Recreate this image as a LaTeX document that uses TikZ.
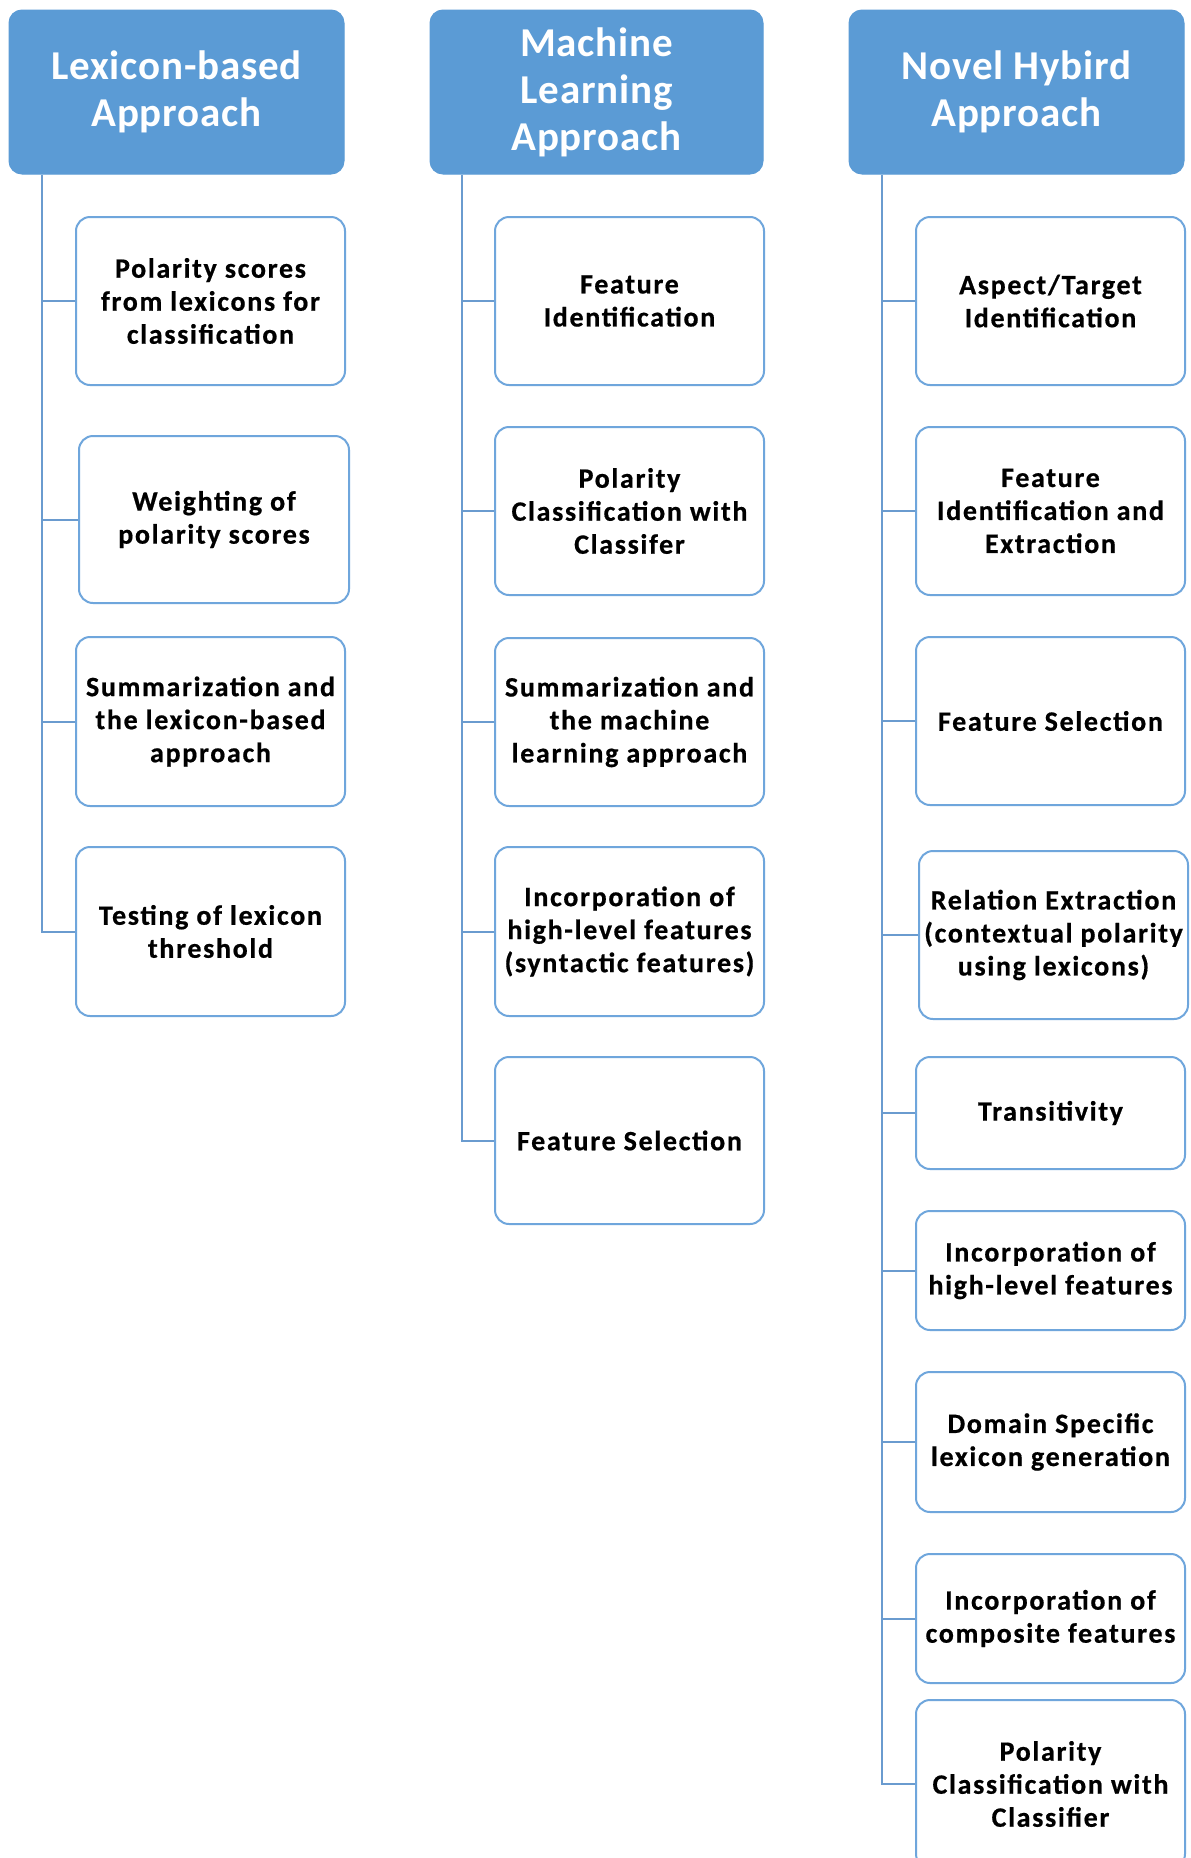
\documentclass[tikz,border=0pt]{standalone}
\usepackage{fontspec}
\setmainfont{Carlito}
\newfontfamily\boxfont[LetterSpace=6, BoldFeatures={LetterSpace=6, FakeBold=0.6}]{Carlito}
\newfontfamily\headfont[LetterSpace=2, BoldFeatures={LetterSpace=2}]{Carlito}
\definecolor{hdrblue}{HTML}{5B9BD5}
\definecolor{boxline}{HTML}{6FA6DC}
\definecolor{trunkline}{HTML}{6A9BCF}
\tikzset{
  header/.style={draw=hdrblue, fill=hdrblue, rounded corners=13pt, line width=1pt,
    text=white, align=center, inner sep=2pt,
    font=\headfont\fontsize{41}{47}\selectfont\bfseries},
  sub/.style={draw=boxline, fill=white, rounded corners=14pt, line width=2pt,
    text=black, align=center, inner sep=2pt, minimum width=269pt,
    font=\boxfont\fontsize{28}{33}\selectfont\bfseries},
  link/.style={draw=trunkline, line width=2pt}
}
\begin{document}
\begin{tikzpicture}[x=1pt, y=-1pt]
\useasboundingbox (0,0) rectangle (1191,1858);
\clip (0,0) rectangle (1191,1858);
\fill[white] (0,0) rectangle (1191,1858);

% column headers
\node[header, minimum width=335pt, minimum height=164pt] (h1) at (176.5,92) {Lexicon-based\\Approach};
\node[header, minimum width=333pt, minimum height=164pt] (h2) at (596.5,92) {Machine\\Learning\\Approach};
\node[header, minimum width=335pt, minimum height=164pt] (h3) at (1016.5,92) {Novel Hybird\\Approach};

% lexicon-based column
\node[sub, minimum height=168pt] (a1) at (210.5,301) {Polarity scores\\from lexicons for\\classification};
\node[sub, minimum width=270pt, minimum height=167pt] (a2) at (214,519.5) {Weighting of\\polarity scores};
\node[sub, minimum height=169pt] (a3) at (210.5,721.5) {Summarization and\\the lexicon-based\\approach};
\node[sub, minimum height=169pt] (a4) at (210.5,931.5) {Testing of lexicon\\threshold};

% machine learning column
\node[sub, minimum height=168pt] (b1) at (629.5,301) {Feature\\Identification};
\node[sub, minimum height=168pt] (b2) at (629.5,511) {Polarity\\Classification with\\Classifer};
\node[sub, minimum height=168pt] (b3) at (629.5,722) {Summarization and\\the machine\\learning approach};
\node[sub, minimum height=169pt] (b4) at (629.5,931.5) {Incorporation of\\high-level features\\(syntactic features)};
\node[sub, minimum height=167pt] (b5) at (629.5,1140.5) {Feature Selection};

% hybrid column
\node[sub, minimum height=168pt] (c1) at (1050.5,301) {Aspect/Target\\Identification};
\node[sub, minimum height=168pt] (c2) at (1050.5,511) {Feature\\Identification and\\Extraction};
\node[sub, minimum height=168pt] (c3) at (1050.5,721) {Feature Selection};
\node[sub, minimum height=168pt] (c4) at (1053.5,935) {Relation Extraction\\(contextual polarity\\using lexicons)};
\node[sub, minimum height=112pt] (c5) at (1050.5,1113) {Transitivity};
\node[sub, minimum height=119pt] (c6) at (1050.5,1270.5) {Incorporation of\\high-level features};
\node[sub, minimum height=140pt] (c7) at (1050.5,1442) {Domain Specific\\lexicon generation};
\node[sub, minimum height=129pt] (c8) at (1050.5,1618.5) {Incorporation of\\composite features};
\node[sub, minimum height=168pt] (c9) at (1050.5,1784) {Polarity\\Classification with\\Classifier};

% trunk start points below each header
\coordinate (t1) at ([xshift=33pt]h1.south west);
\coordinate (t2) at ([xshift=32pt]h2.south west);
\coordinate (t3) at ([xshift=33pt]h3.south west);

% trunks ending in the last branch
\draw[link] (t1) |- (a4.west);
\draw[link] (t2) |- (b5.west);
\draw[link] (t3) |- (c9.west);

% side branches
\foreach \n in {a1,a2,a3} \draw[link] (\n.west) -- (\n.west -| t1);
\foreach \n in {b1,b2,b3,b4} \draw[link] (\n.west) -- (\n.west -| t2);
\foreach \n in {c1,c2,c3,c4,c5,c6,c7,c8} \draw[link] (\n.west) -- (\n.west -| t3);
\end{tikzpicture}
\end{document}
